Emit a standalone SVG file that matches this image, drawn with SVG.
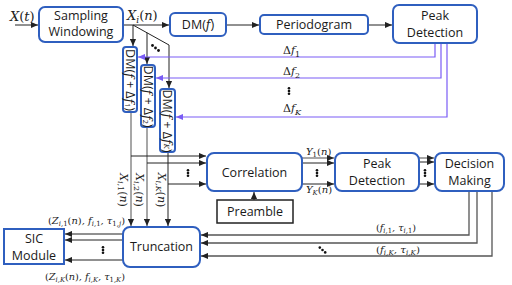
<svg xmlns="http://www.w3.org/2000/svg" width="512" height="285" viewBox="0 0 512 285">
<defs>
<style>
.box{fill:#fff;stroke:#2f5fbf;stroke-width:2}
.box2{fill:#fff;stroke:#222;stroke-width:1.5}
.lbl{font-family:"Open Sans","DejaVu Sans",sans-serif;font-size:12.5px;fill:#1a1a1a;text-anchor:middle}
.m{font-family:"DejaVu Serif","Liberation Serif",serif;font-style:italic;fill:#222}
.u{font-style:normal}
.s{font-size:7px}
.c{fill:none;stroke:#222;stroke-width:1}
.g{fill:none;stroke:#8a8a8a;stroke-width:1.5}
.d{fill:none;stroke:#555;stroke-width:1.3}
.p{fill:none;stroke:#7a5cf5;stroke-width:1.2}
.dot{fill:#111}
</style>
<marker id="ah" viewBox="0 0 8 8" refX="8" refY="4" markerWidth="7" markerHeight="7" markerUnits="userSpaceOnUse" orient="auto"><path d="M0,0.5 L8,4 L0,7.5 z" fill="#222"/></marker>
<marker id="ap" viewBox="0 0 8 8" refX="8" refY="4" markerWidth="7" markerHeight="7" markerUnits="userSpaceOnUse" orient="auto"><path d="M0,0.5 L8,4 L0,7.5 z" fill="#7a5cf5"/></marker>
</defs>
<rect width="512" height="285" fill="#fff"/>

<g id="connectors">
<path class="c" d="M15,25 H38" marker-end="url(#ah)"/>
<path class="c" d="M123,25 H169" marker-end="url(#ah)"/>
<path class="c" d="M226,25 H259" marker-end="url(#ah)"/>
<path class="c" d="M368,25 H392" marker-end="url(#ah)"/>
<path class="c" d="M133,25 V46" marker-end="url(#ah)"/>
<path class="c" d="M133,25 L169,45 V88" marker-end="url(#ah)"/>
<path class="c" d="M147,32.8 V64" marker-end="url(#ah)"/>
<path class="p" d="M435,43 V57 H138" marker-end="url(#ap)"/>
<path class="p" d="M441,43 V78 H156" marker-end="url(#ap)"/>
<path class="p" d="M447,43 V117 H176" marker-end="url(#ap)"/>
<path class="g" d="M131,112 V226" marker-end="url(#ah)"/>
<path class="g" d="M147,127 V226" marker-end="url(#ah)"/>
<path class="c" d="M168,152 V226" marker-end="url(#ah)"/>
<path class="c" d="M131,156 H206" marker-end="url(#ah)"/>
<path class="c" d="M147,163 H206" marker-end="url(#ah)"/>
<path class="c" d="M168,184 H206" marker-end="url(#ah)"/>
<path class="c" d="M254,200 V192" marker-end="url(#ah)"/>
<path class="g" d="M302,158 H334" marker-end="url(#ah)"/>
<path class="c" d="M302,163 H334" marker-end="url(#ah)"/>
<path class="c" d="M302,184 H334" marker-end="url(#ah)"/>
<path class="g" d="M419,158 H434" marker-end="url(#ah)"/>
<path class="c" d="M419,162 H434" marker-end="url(#ah)"/>
<path class="c" d="M419,184 H434" marker-end="url(#ah)"/>
<path class="d" d="M469,191 V235 H201" marker-end="url(#ah)"/>
<path class="d" d="M477,191 V243 H201" marker-end="url(#ah)"/>
<path class="d" d="M492,191 V256 H201" marker-end="url(#ah)"/>
<path class="c" d="M123,234 H65" marker-end="url(#ah)"/>
<path class="c" d="M123,240 H65" marker-end="url(#ah)"/>
<path class="c" d="M123,260 H65" marker-end="url(#ah)"/>
<g class="dot">
<circle cx="152.5" cy="45.5" r="1.4"/><circle cx="155.5" cy="48" r="1.4"/><circle cx="158.5" cy="50.5" r="1.4"/>
<circle cx="289" cy="88.2" r="1.3"/><circle cx="289" cy="91" r="1.3"/><circle cx="289" cy="93.8" r="1.3"/>
<circle cx="188" cy="170.2" r="1.3"/><circle cx="188" cy="173" r="1.3"/><circle cx="188" cy="175.8" r="1.3"/>
<circle cx="317" cy="170.2" r="1.3"/><circle cx="317" cy="173" r="1.3"/><circle cx="317" cy="175.8" r="1.3"/>
<circle cx="425" cy="170.2" r="1.3"/><circle cx="425" cy="173" r="1.3"/><circle cx="425" cy="175.8" r="1.3"/>
<circle cx="103" cy="247.2" r="1.3"/><circle cx="103" cy="250" r="1.3"/><circle cx="103" cy="252.8" r="1.3"/>
<circle cx="319.8" cy="247.6" r="1.3"/><circle cx="322.5" cy="250" r="1.3"/><circle cx="325.2" cy="252.4" r="1.3"/>
</g>
<text class="m" x="10" y="21" font-size="13">X<tspan class="u">(</tspan>t<tspan class="u">)</tspan></text>
<text class="m" x="127" y="20" font-size="13">X<tspan baseline-shift="-3" font-size="9">i</tspan><tspan class="u">(</tspan>n<tspan class="u">)</tspan></text>
<text class="m" x="283" y="54" font-size="11"><tspan class="u">Δ</tspan>f<tspan baseline-shift="-2.5" font-size="8" class="u">1</tspan></text>
<text class="m" x="283" y="75" font-size="11"><tspan class="u">Δ</tspan>f<tspan baseline-shift="-2.5" font-size="8" class="u">2</tspan></text>
<text class="m" x="283" y="112" font-size="11"><tspan class="u">Δ</tspan>f<tspan baseline-shift="-2.5" font-size="8">K</tspan></text>
<text class="m" transform="translate(123,190) rotate(90)" text-anchor="middle" dominant-baseline="central" font-size="11">X<tspan baseline-shift="-2.5" font-size="8">i,<tspan class="u">1</tspan></tspan><tspan class="u">(</tspan>n<tspan class="u">)</tspan></text>
<text class="m" transform="translate(139,190) rotate(90)" text-anchor="middle" dominant-baseline="central" font-size="11">X<tspan baseline-shift="-2.5" font-size="8">i,<tspan class="u">2</tspan></tspan><tspan class="u">(</tspan>n<tspan class="u">)</tspan></text>
<text class="m" transform="translate(161,190) rotate(90)" text-anchor="middle" dominant-baseline="central" font-size="11">X<tspan baseline-shift="-2.5" font-size="8">i,K</tspan><tspan class="u">(</tspan>n<tspan class="u">)</tspan></text>
<text class="m" x="306" y="155" font-size="10">Y<tspan baseline-shift="-2" class="s u">1</tspan><tspan class="u">(</tspan>n<tspan class="u">)</tspan></text>
<text class="m" x="306" y="193" font-size="10">Y<tspan baseline-shift="-2" class="s">K</tspan><tspan class="u">(</tspan>n<tspan class="u">)</tspan></text>
<text class="m" x="376" y="231" font-size="10" textLength="40" lengthAdjust="spacingAndGlyphs"><tspan class="u">(</tspan>f<tspan baseline-shift="-2" class="s">i,<tspan class="u">1</tspan></tspan>, τ<tspan baseline-shift="-2" class="s">i,<tspan class="u">1</tspan></tspan><tspan class="u">)</tspan></text>
<text class="m" x="376" y="253" font-size="10" textLength="44" lengthAdjust="spacingAndGlyphs"><tspan class="u">(</tspan>f<tspan baseline-shift="-2" class="s">i,K</tspan>, τ<tspan baseline-shift="-2" class="s">i,K</tspan><tspan class="u">)</tspan></text>
<text class="m" x="48" y="224" font-size="10" textLength="77" lengthAdjust="spacingAndGlyphs"><tspan class="u">(</tspan>Z<tspan baseline-shift="-2" class="s">i,<tspan class="u">1</tspan></tspan><tspan class="u">(</tspan>n<tspan class="u">)</tspan>, f<tspan baseline-shift="-2" class="s">i,<tspan class="u">1</tspan></tspan>, τ<tspan baseline-shift="-2" class="s"><tspan class="u">1</tspan>,j</tspan><tspan class="u">)</tspan></text>
<text class="m" x="45" y="280" font-size="10" textLength="80" lengthAdjust="spacingAndGlyphs"><tspan class="u">(</tspan>Z<tspan baseline-shift="-2" class="s">i,K</tspan><tspan class="u">(</tspan>n<tspan class="u">)</tspan>, f<tspan baseline-shift="-2" class="s">i,K</tspan>, τ<tspan baseline-shift="-2" class="s"><tspan class="u">1</tspan>,K</tspan><tspan class="u">)</tspan></text>
</g>

<g id="sampling">
<rect class="box" x="39" y="7" width="84" height="35" rx="6"/>
<text class="lbl" x="81" y="20" font-size="12">Sampling</text>
<text class="lbl" x="81" y="36" font-size="12">Windowing</text>
</g>
<g id="dmf">
<rect class="box" x="170" y="13" width="56" height="23" rx="5"/>
<text class="lbl" x="198" y="29">DM(<tspan class="m">f</tspan>)</text>
</g>
<g id="periodogram">
<rect class="box" x="260" y="15" width="108" height="19" rx="4"/>
<text class="lbl" x="314" y="29">Periodogram</text>
</g>
<g id="peak1">
<rect class="box" x="393" y="5" width="84" height="38" rx="6"/>
<text class="lbl" x="435" y="20">Peak</text>
<text class="lbl" x="435" y="37">Detection</text>
</g>
<g id="dm1">
<rect class="box" x="123" y="47" width="14" height="65" rx="3"/>
<text class="lbl" transform="translate(130,80) rotate(90)" dominant-baseline="central" font-size="10">DM(<tspan class="m">f</tspan> + Δ<tspan class="m">f</tspan><tspan baseline-shift="-2" class="s">1</tspan>)</text>
</g>
<g id="dm2">
<rect class="box" x="141" y="65" width="14" height="62" rx="3"/>
<text class="lbl" transform="translate(148,96.5) rotate(90)" dominant-baseline="central" font-size="10">DM(<tspan class="m">f</tspan> + Δ<tspan class="m">f</tspan><tspan baseline-shift="-2" class="s">2</tspan>)</text>
</g>
<g id="dmK">
<rect class="box" x="160" y="89" width="15" height="63" rx="3"/>
<text class="lbl" transform="translate(167.5,121) rotate(90)" dominant-baseline="central" font-size="10">DM(<tspan class="m">f</tspan> + Δ<tspan class="m">f</tspan><tspan baseline-shift="-2" class="s m">K</tspan>)</text>
</g>
<g id="correlation">
<rect class="box" x="207" y="153" width="95" height="38" rx="7"/>
<text class="lbl" x="254.5" y="177">Correlation</text>
</g>
<g id="preamble">
<rect class="box2" x="217" y="200" width="76" height="23"/>
<text class="lbl" x="255" y="216">Preamble</text>
</g>
<g id="peak2">
<rect class="box" x="335" y="153" width="84" height="38" rx="7"/>
<text class="lbl" x="377" y="168">Peak</text>
<text class="lbl" x="377" y="185">Detection</text>
</g>
<g id="decision">
<rect class="box" x="435" y="153" width="69" height="38" rx="7"/>
<text class="lbl" x="469.5" y="168">Decision</text>
<text class="lbl" x="469.5" y="185">Making</text>
</g>
<g id="truncation">
<rect class="box" x="123" y="227" width="77" height="40" rx="7"/>
<text class="lbl" x="161.5" y="251" font-size="11">Truncation</text>
</g>
<g id="sic">
<rect class="box" x="4" y="229" width="60" height="35"/>
<text class="lbl" x="34" y="243">SIC</text>
<text class="lbl" x="34" y="260">Module</text>
</g>
</svg>
